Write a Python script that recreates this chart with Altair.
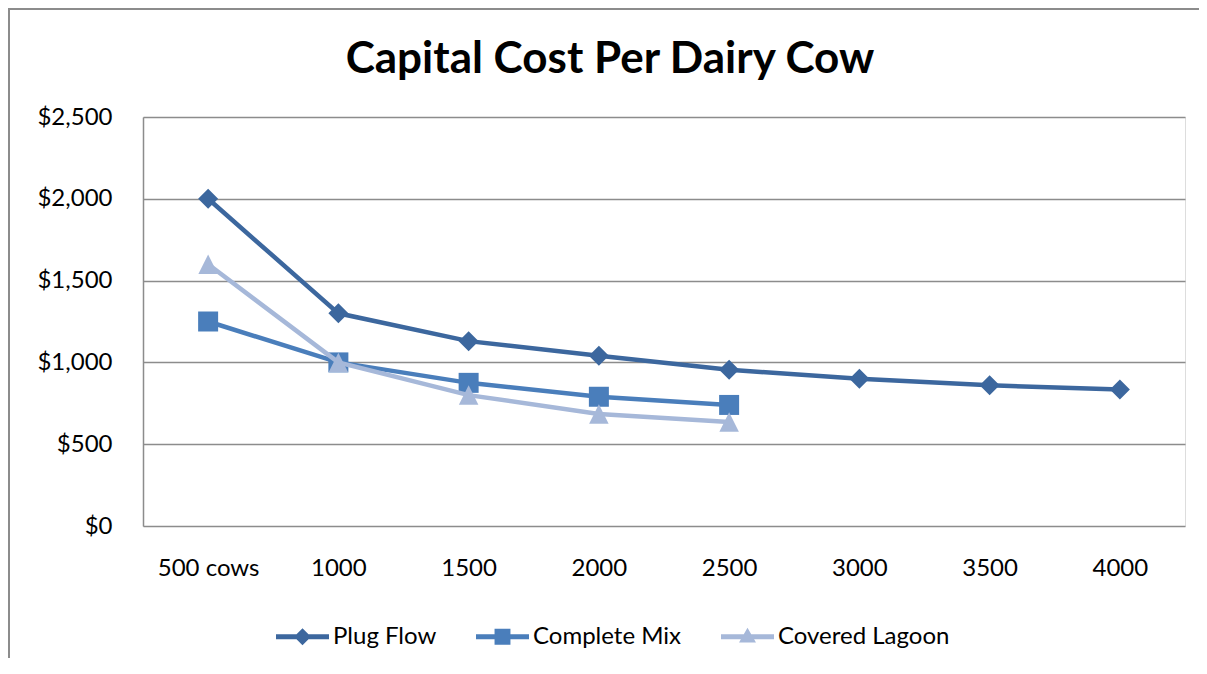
import altair as alt
import pandas as pd

categories = ["500 cows", "1000", "1500", "2000", "2500", "3000", "3500", "4000"]
series_names = ["Plug Flow", "Complete Mix", "Covered Lagoon"]
plug_flow = [2000, 1300, 1130, 1040, 955, 900, 860, 835]
complete_mix = [1250, 1000, 875, 790, 740]
covered_lagoon = [1600, 1000, 800, 685, 635]
y_ticks = [0, 500, 1000, 1500, 2000, 2500]

colors = ["#3C679E", "#4A7EBB", "#A6B8D9"]
FONT = "Lato"
GRID = "#8c8c8c"
LBL = 24

rows = []
for name, vals in zip(series_names, [plug_flow, complete_mix, covered_lagoon]):
    for c, v in zip(categories, vals):
        rows.append({"size": c, "series": name, "cost": v})
df = pd.DataFrame(rows)

x_enc = alt.X(
    "size:N", sort=categories,
    scale=alt.Scale(type="point", padding=0.5, domain=categories),
    axis=alt.Axis(title=None, labelAngle=0, ticks=False, domain=False, grid=False,
                  labelPadding=30, labelFontSize=LBL, labelFont=FONT, labelColor="black"),
)
y_enc = alt.Y(
    "cost:Q", scale=alt.Scale(domain=[0, 2500], nice=False),
    axis=alt.Axis(title=None, values=y_ticks, format="$,.0f", ticks=False,
                  domain=True, domainColor=GRID, domainWidth=1.5,
                  grid=True, gridColor=GRID, gridWidth=1.5,
                  labelPadding=31, labelFontSize=LBL, labelFont=FONT, labelColor="black"),
)

marker_shapes = ["diamond", "square", "M0,-1L1,1L-1,1Z"]
marker_sizes = [400, 400, 380]

base = alt.Chart(df)
layers = []
for i, name in enumerate(series_names):
    layers.append(
        base.transform_filter(alt.datum.series == name)
        .mark_line(color=colors[i], strokeWidth=4.5)
        .encode(x=x_enc, y=y_enc)
    )
    layers.append(
        base.transform_filter(alt.datum.series == name)
        .mark_point(shape=marker_shapes[i], filled=True, size=marker_sizes[i],
                    color=colors[i], opacity=1)
        .encode(x=x_enc, y=y_enc)
    )

legend_paths = [
    "M-1,-0.09H1V0.09H-1Z M0,-0.32L0.32,0L0,0.32L-0.32,0Z",
    "M-1,-0.09H1V0.09H-1Z M-0.3,-0.3H0.3V0.3H-0.3Z",
    "M-1,-0.09H1V0.09H-1Z M0,-0.34L0.32,0.22H-0.32Z",
]
leg = alt.Legend(
    orient="none", legendX=133, legendY=493, direction="horizontal", title=None,
    symbolSize=2809, symbolOpacity=1, symbolStrokeWidth=0,
    labelFont=FONT, labelFontSize=LBL, labelColor="black", labelOffset=4,
    labelLimit=400, columnPadding=39, padding=0,
)
legend_layer = base.mark_point(filled=True, opacity=0, size=10).encode(
    x=x_enc, y=y_enc,
    color=alt.Color("series:N", sort=series_names,
                    scale=alt.Scale(domain=series_names, range=colors), legend=leg),
    shape=alt.Shape("series:N", sort=series_names,
                    scale=alt.Scale(domain=series_names, range=legend_paths), legend=leg),
)

frame = alt.Chart(alt.Data(values=[{"f": 1}])).mark_rect(
    fill="transparent", stroke="#8c8c8c", strokeWidth=2
).encode(x=alt.value(-134), x2=alt.value(3000), y=alt.value(-108), y2=alt.value(3000))

chart = alt.layer(frame, *layers, legend_layer).properties(
    width=1042, height=409,
    autosize=alt.AutoSizeParams(type="none"),
    padding={"left": 135, "top": 109, "right": 14, "bottom": 132},
    title=alt.TitleParams("Capital Cost Per Dairy Cow", font=FONT, fontSize=44,
                          fontWeight="bold", color="black", anchor="middle",
                          dx=-54, dy=108, offset=34),
).configure_view(stroke=None).configure(background="white")

chart.save("out.html", embed_options={"renderer": "svg", "actions": False})
